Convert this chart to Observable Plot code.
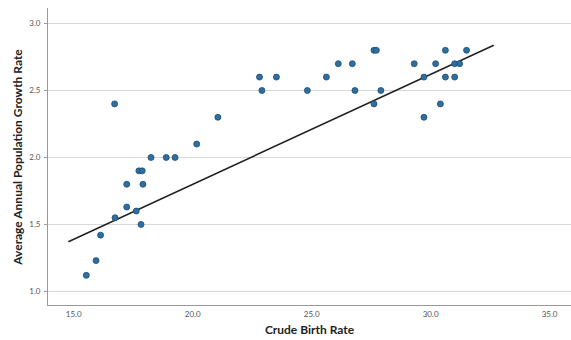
<!DOCTYPE html>
<html>
<head>
<meta charset="utf-8">
<script src="https://cdn.jsdelivr.net/npm/d3@7"></script>
<script src="https://cdn.jsdelivr.net/npm/@observablehq/plot@0.6"></script>
<style>
  html, body { margin: 0; padding: 0; background: #fff; }
  #chart svg { display: block; }
</style>
</head>
<body>
<div id="chart"></div>
<script>
const birthRate = [15.53, 15.94, 16.13, 16.74, 16.72, 17.23, 17.23, 17.63, 17.74, 17.88, 17.83, 17.91, 18.25, 18.89, 19.26, 20.17, 21.06, 22.81, 22.91, 23.52, 24.82, 25.62, 26.12, 26.71, 26.82, 27.62, 27.72, 27.62, 27.91, 29.31, 29.72, 29.72, 30.21, 30.62, 30.62, 30.41, 31.01, 31.22, 31.01, 31.51];
const growthRate = [1.12, 1.23, 1.42, 1.55, 2.40, 1.80, 1.63, 1.60, 1.90, 1.90, 1.50, 1.80, 2.00, 2.00, 2.00, 2.10, 2.30, 2.60, 2.50, 2.60, 2.50, 2.60, 2.70, 2.70, 2.50, 2.80, 2.80, 2.40, 2.50, 2.70, 2.60, 2.30, 2.70, 2.80, 2.60, 2.40, 2.70, 2.70, 2.60, 2.80];
const fitX = [14.8, 32.63];
const fitY = [1.373, 2.836];
const xTicks = [15, 20, 25, 30, 35];
const yTicks = [1.0, 1.5, 2.0, 2.5, 3.0];
const xTitle = "Crude Birth Rate";
const yTitle = "Average Annual Population Growth Rate";
const xDomain = [13.9, 35.92];
const yDomain = [0.895, 3.112];

const points = birthRate.map((x, i) => ({x, y: growthRate[i]}));
const fit = fitX.map((x, i) => ({x, y: fitY[i]}));

const chart = Plot.plot({
  width: 571,
  height: 340,
  marginLeft: 47,
  marginRight: 0,
  marginTop: 8,
  marginBottom: 35,
  style: {fontFamily: "Lato, 'Open Sans', sans-serif", background: "#fff"},
  x: {domain: xDomain},
  y: {domain: yDomain},
  marks: [
    Plot.gridY(yTicks, {stroke: "#d6d6d6", strokeOpacity: 1, strokeWidth: 1}),
    Plot.ruleX([xDomain[0]], {stroke: "#999", strokeWidth: 1}),
    Plot.ruleY([yDomain[0]], {stroke: "#999", strokeWidth: 1}),
    Plot.axisY(yTicks, {tickSize: 3, tickPadding: 4, tickFormat: d3.format(".1f"), fontSize: 8, fill: "#555", stroke: "#999", label: null}),
    Plot.axisX(xTicks, {tickSize: 0, tickPadding: 6, tickFormat: d3.format(".1f"), fontSize: 8, fill: "#555", label: null}),
    Plot.line(fit, {x: "x", y: "y", stroke: "#222", strokeWidth: 1.6}),
    Plot.dot(points, {x: "x", y: "y", r: 3, fill: "#2f6fa0", stroke: "#1d4c72", strokeWidth: 0.8}),
    Plot.text([xTitle], {frameAnchor: "bottom", dy: 28, text: d => d, fontSize: 12, fontWeight: "bold", fill: "#222"}),
    Plot.text([yTitle], {frameAnchor: "left", textAnchor: "middle", dx: -29, rotate: -90, text: d => d, fontSize: 12, fontWeight: "bold", fill: "#222"})
  ]
});
document.getElementById("chart").appendChild(chart);
</script>
</body>
</html>
